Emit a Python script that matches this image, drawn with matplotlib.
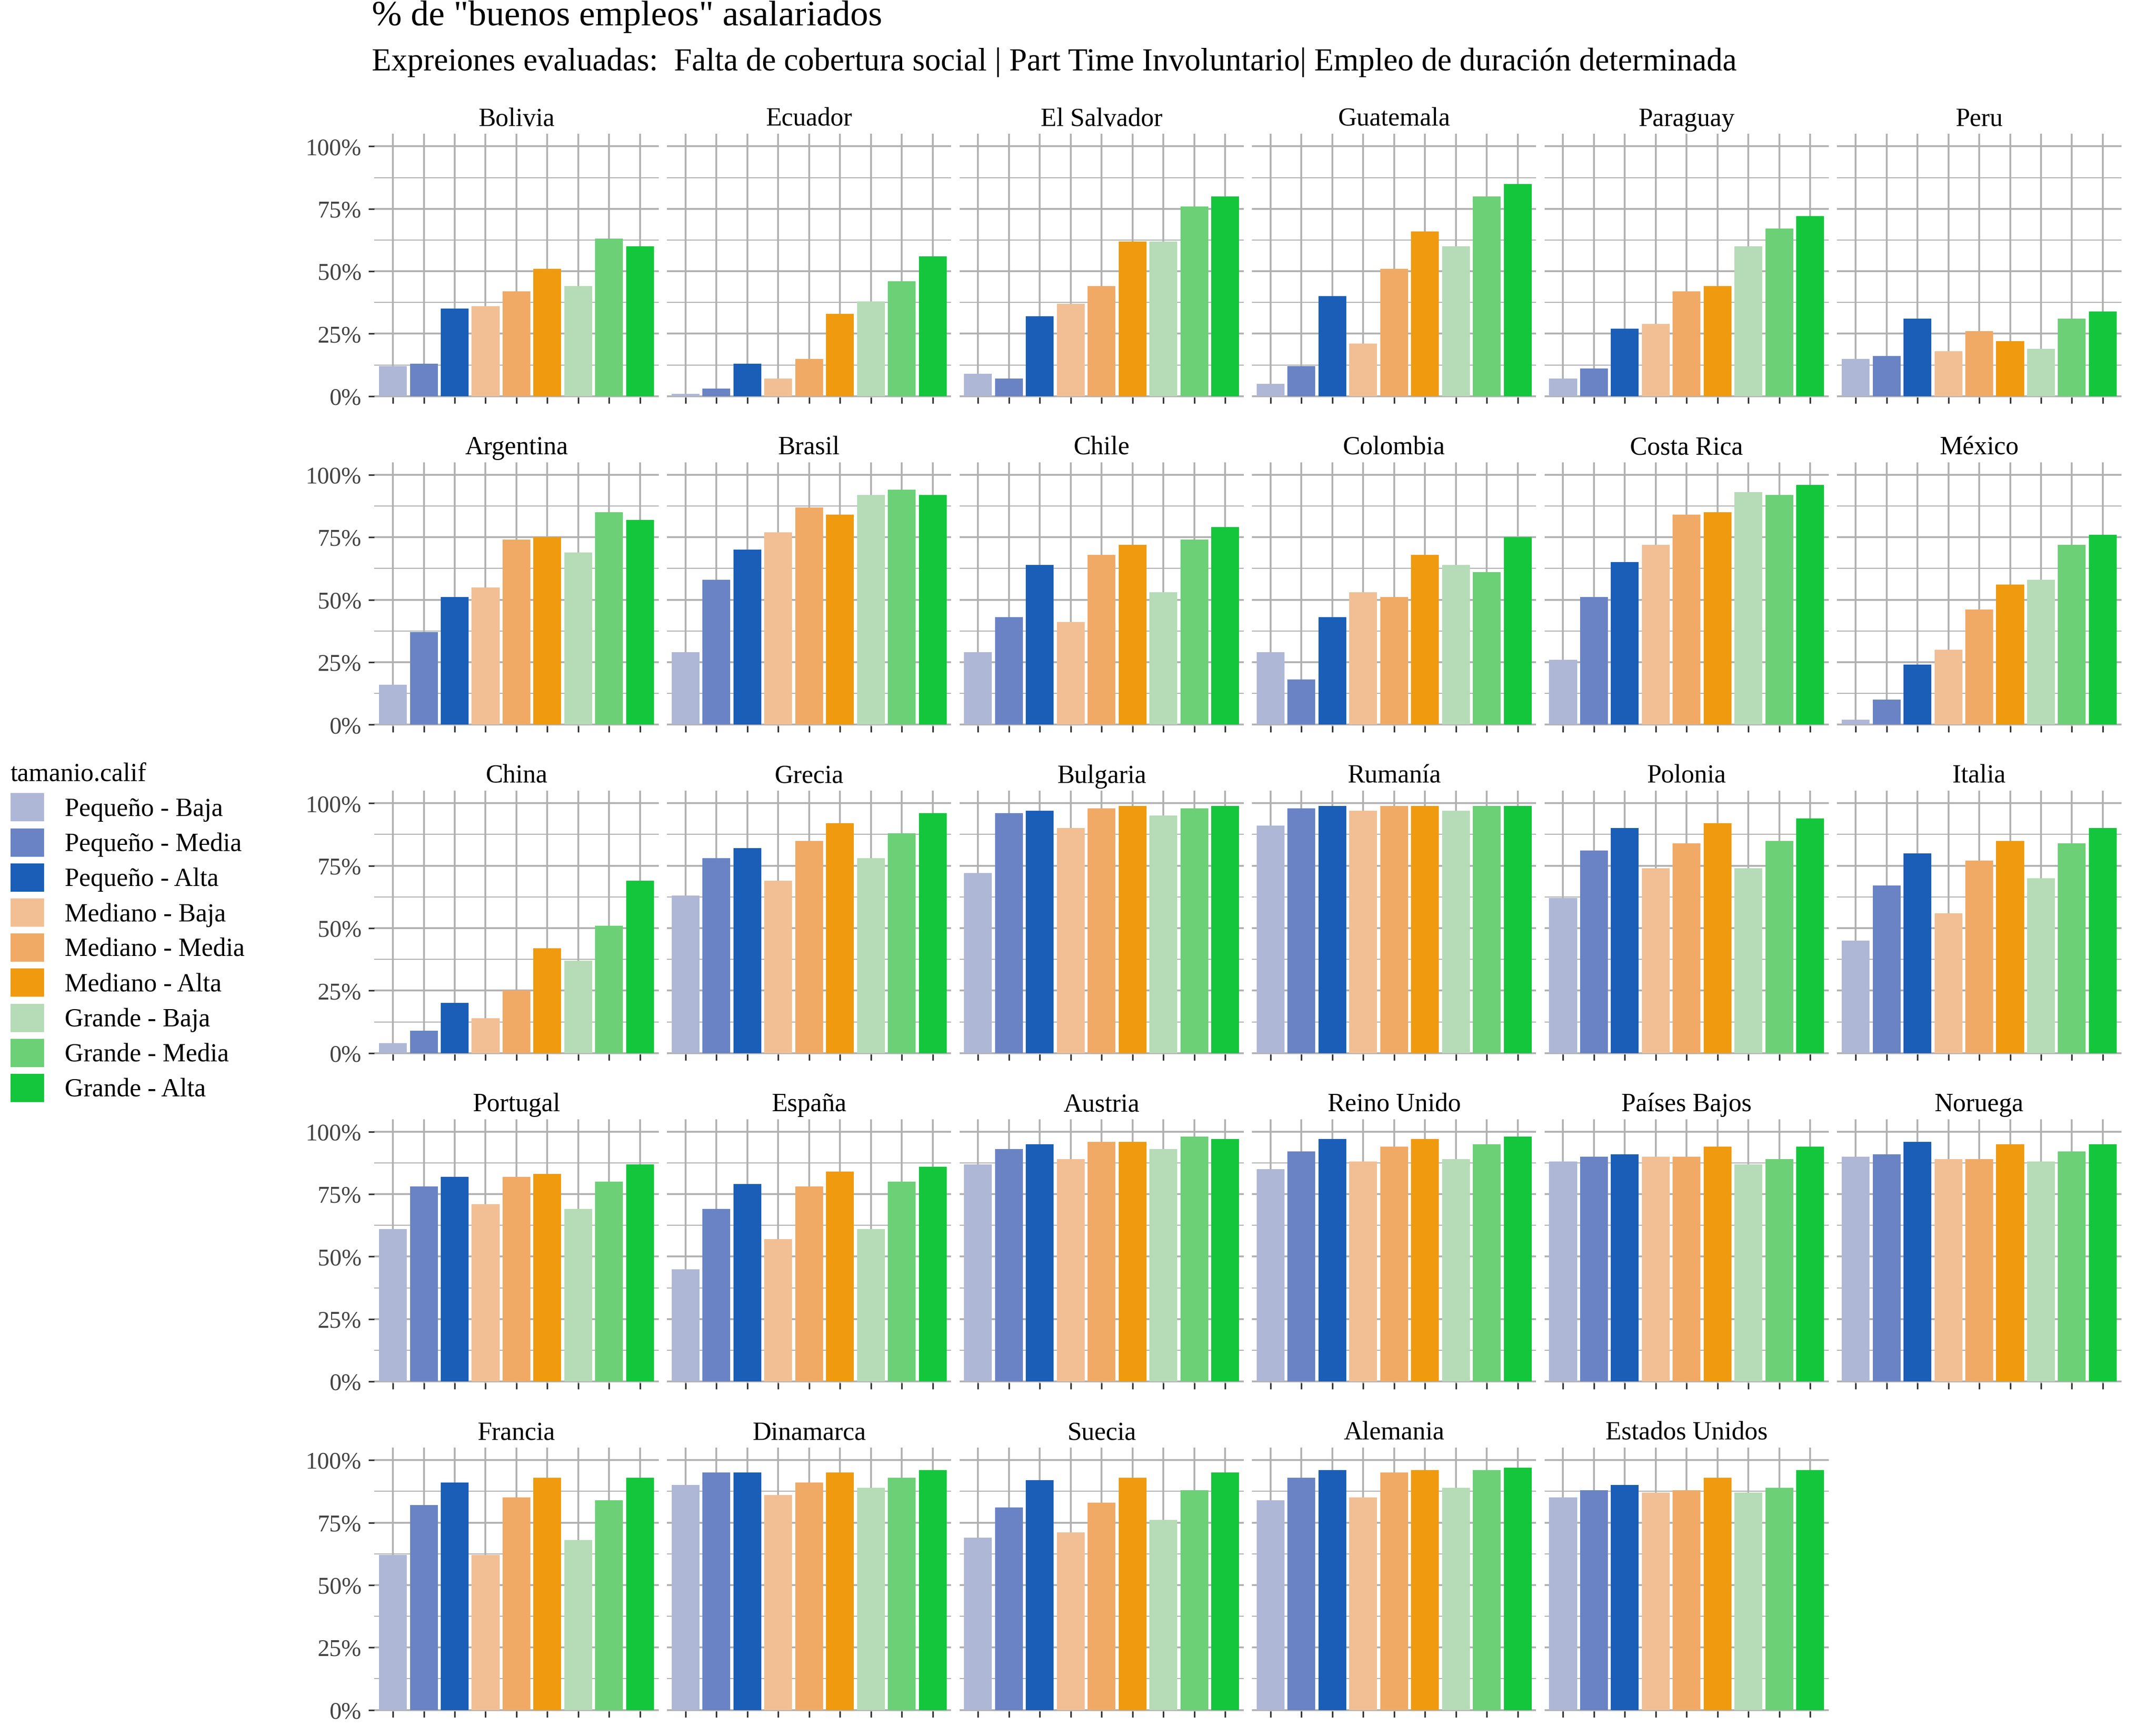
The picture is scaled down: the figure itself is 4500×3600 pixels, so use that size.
import matplotlib
matplotlib.use("Agg")
import matplotlib.pyplot as plt
from matplotlib.patches import Patch
import numpy as np

plt.rcParams['font.family'] = ['Liberation Serif', 'DejaVu Serif']

categories = ["Pequeño - Baja", "Pequeño - Media", "Pequeño - Alta", "Mediano - Baja", "Mediano - Media",
              "Mediano - Alta", "Grande - Baja", "Grande - Media", "Grande - Alta"]
colors = ["#aeb7d6", "#6a83c4", "#1a5eb8", "#f2bf94", "#f1aa66", "#f09a0f", "#b5dcb6", "#6bd076", "#14c63c"]

countries = ["Bolivia", "Ecuador", "El Salvador", "Guatemala", "Paraguay", "Peru",
             "Argentina", "Brasil", "Chile", "Colombia", "Costa Rica", "México",
             "China", "Grecia", "Bulgaria", "Rumanía", "Polonia", "Italia",
             "Portugal", "España", "Austria", "Reino Unido", "Países Bajos", "Noruega",
             "Francia", "Dinamarca", "Suecia", "Alemania", "Estados Unidos"]
values = [
    [12, 13, 35, 36, 42, 51, 44, 63, 60],
    [1, 3, 13, 7, 15, 33, 38, 46, 56],
    [9, 7, 32, 37, 44, 62, 62, 76, 80],
    [5, 12, 40, 21, 51, 66, 60, 80, 85],
    [7, 11, 27, 29, 42, 44, 60, 67, 72],
    [15, 16, 31, 18, 26, 22, 19, 31, 34],
    [16, 37, 51, 55, 74, 75, 69, 85, 82],
    [29, 58, 70, 77, 87, 84, 92, 94, 92],
    [29, 43, 64, 41, 68, 72, 53, 74, 79],
    [29, 18, 43, 53, 51, 68, 64, 61, 75],
    [26, 51, 65, 72, 84, 85, 93, 92, 96],
    [2, 10, 24, 30, 46, 56, 58, 72, 76],
    [4, 9, 20, 14, 25, 42, 37, 51, 69],
    [63, 78, 82, 69, 85, 92, 78, 88, 96],
    [72, 96, 97, 90, 98, 99, 95, 98, 99],
    [91, 98, 99, 97, 99, 99, 97, 99, 99],
    [62, 81, 90, 74, 84, 92, 74, 85, 94],
    [45, 67, 80, 56, 77, 85, 70, 84, 90],
    [61, 78, 82, 71, 82, 83, 69, 80, 87],
    [45, 69, 79, 57, 78, 84, 61, 80, 86],
    [87, 93, 95, 89, 96, 96, 93, 98, 97],
    [85, 92, 97, 88, 94, 97, 89, 95, 98],
    [88, 90, 91, 90, 90, 94, 87, 89, 94],
    [90, 91, 96, 89, 89, 95, 88, 92, 95],
    [62, 82, 91, 62, 85, 93, 68, 84, 93],
    [90, 95, 95, 86, 91, 95, 89, 93, 96],
    [69, 81, 92, 71, 83, 93, 76, 88, 95],
    [84, 93, 96, 85, 95, 96, 89, 96, 97],
    [85, 88, 90, 87, 88, 93, 87, 89, 96],
]

fig = plt.figure(figsize=(15, 12), dpi=300)
W, H = 1555, 1250
col_x = [270, 481, 692, 903, 1114, 1325]
pw = 205
row_y = [97, 335, 573, 811, 1049]
ph = 191
x = np.arange(9)
for i, (c, v) in enumerate(zip(countries, values)):
    r, k = divmod(i, 6)
    ax = fig.add_axes([col_x[k] / W, 1 - (row_y[r] + ph) / H, pw / W, ph / H])
    ax.set_axisbelow(True)
    ax.set_ylim(-0.5, 105)
    ax.set_xlim(-0.6, 8.6)
    ax.set_yticks([0, 25, 50, 75, 100])
    ax.set_yticks([12.5, 37.5, 62.5, 87.5], minor=True)
    ax.set_xticks(x)
    ax.grid(True, which='major', color='#b0b0b0', lw=0.9)
    ax.grid(True, which='minor', axis='y', color='#b0b0b0', lw=0.5)
    ax.bar(x, v, width=0.9, color=colors, zorder=2)
    for s in ax.spines.values():
        s.set_visible(False)
    ax.tick_params(axis='x', labelbottom=False, length=3, color='#333333')
    ax.tick_params(axis='y', which='minor', length=0)
    if k == 0:
        ax.set_yticklabels(["0%", "25%", "50%", "75%", "100%"], fontsize=12, color='#444444')
        ax.tick_params(axis='y', length=3, color='#333333')
    else:
        ax.tick_params(axis='y', labelleft=False, length=0)
    ax.set_title(c, fontsize=13, pad=4)

fig.text(268 / W, 1 - 12 / H, '% de "buenos empleos" asalariados', fontsize=18, va='center')
fig.text(268 / W, 1 - 45 / H, 'Expreiones evaluadas:  Falta de cobertura social | Part Time Involuntario| Empleo de duración determinada',
         fontsize=16, va='center')
handles = [Patch(facecolor=col, label=lab) for col, lab in zip(colors, categories)]
fig.legend(handles=handles, title="tamanio.calif", loc='upper left', bbox_to_anchor=(0.0, 1 - 545 / H),
           frameon=False, fontsize=13, title_fontsize=13, handlelength=1.3, handleheight=1.3,
           labelspacing=0.25, alignment='left', borderaxespad=0)
fig.savefig("out.png", dpi=300)
